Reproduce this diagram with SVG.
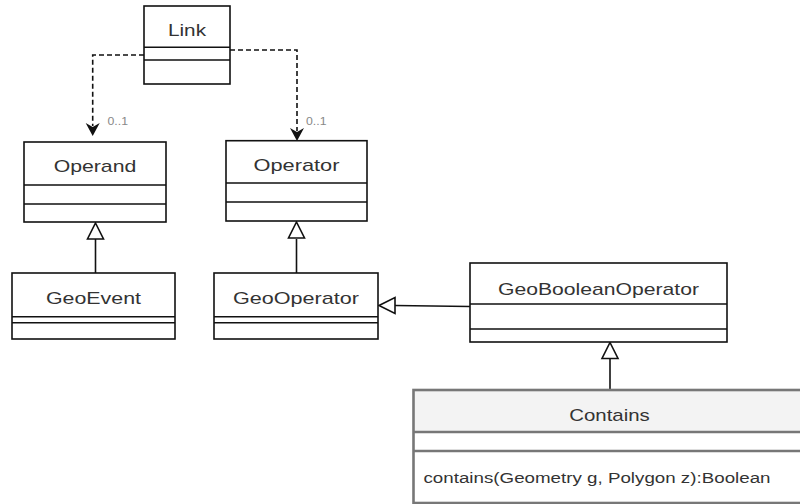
<svg xmlns="http://www.w3.org/2000/svg" width="800" height="504" viewBox="0 0 800 504">
<defs>
<style>
.box{fill:#fff;stroke:#111;stroke-width:1.6}
.ln{stroke:#111;stroke-width:1.6;fill:none}
.title{font-family:"Liberation Sans",Arial,sans-serif;font-size:17px;fill:#333;text-anchor:middle}
.meth{font-family:"Liberation Sans",Arial,sans-serif;font-size:15.5px;fill:#333}
.mult{font-family:"Liberation Sans",Arial,sans-serif;font-size:11px;fill:#888}
.dash{stroke:#111;stroke-width:1.6;fill:none;stroke-dasharray:5 3}
.gbox{stroke:#777;stroke-width:2.6}
.tri{fill:#fff;stroke:#111;stroke-width:1.6}
.head{fill:#111;stroke:none}
</style>
</defs>
<rect width="800" height="504" fill="#fff"/>
<g id="connectors">
<path class="dash" d="M144,55 H92.7 V126"/>
<path class="head" d="M92.7,136 L85.7,123 L92.7,127 L99.7,123 Z"/>
<text class="mult" x="107.5" y="124.5" textLength="20.5" lengthAdjust="spacingAndGlyphs">0..1</text>
<path class="dash" d="M230,50 H297 V131"/>
<path class="head" d="M297,141 L290,128 L297,132 L304,128 Z"/>
<text class="mult" x="306" y="124.5" textLength="20.5" lengthAdjust="spacingAndGlyphs">0..1</text>
<path class="ln" d="M95.5,273 V239"/>
<path class="tri" d="M95.5,223 L103.5,239 L87.5,239 Z"/>
<path class="ln" d="M296.5,273 V239"/>
<path class="tri" d="M296.5,222 L304.5,238 L288.5,238 Z"/>
<path class="ln" d="M470,306.5 L395,305.5"/>
<path class="tri" d="M379,305.5 L395,297.5 L395,313.5 Z"/>
<path class="ln" d="M610,390 V358.5"/>
<path class="tri" d="M610,342.5 L618,358.5 L602,358.5 Z"/>
</g>
<g id="Link">
<rect class="box" x="144" y="6" width="86" height="78"/>
<path class="ln" d="M144,47.3 H230 M144,60 H230"/>
<text class="title" x="187" y="35.5" textLength="38" lengthAdjust="spacingAndGlyphs">Link</text>
</g>
<g id="Operand">
<rect class="box" x="24" y="142" width="142" height="80"/>
<path class="ln" d="M24,185 H166 M24,204 H166"/>
<text class="title" x="95" y="172" textLength="82.7" lengthAdjust="spacingAndGlyphs">Operand</text>
</g>
<g id="Operator">
<rect class="box" x="226" y="140.7" width="141" height="80.3"/>
<path class="ln" d="M226,183 H367 M226,202 H367"/>
<text class="title" x="296.5" y="170.5" textLength="86" lengthAdjust="spacingAndGlyphs">Operator</text>
</g>
<g id="GeoEvent">
<rect class="box" x="12" y="273" width="163" height="66"/>
<path class="ln" d="M12,316.7 H175 M12,322.7 H175"/>
<text class="title" x="93.5" y="303.5" textLength="95" lengthAdjust="spacingAndGlyphs">GeoEvent</text>
</g>
<g id="GeoOperator">
<rect class="box" x="214" y="273" width="164" height="66"/>
<path class="ln" d="M214,316.7 H378 M214,322.7 H378"/>
<text class="title" x="296" y="303.5" textLength="126" lengthAdjust="spacingAndGlyphs">GeoOperator</text>
</g>
<g id="GeoBooleanOperator">
<rect class="box" x="470" y="263" width="257" height="79"/>
<path class="ln" d="M470,304 H727 M470,329 H727"/>
<text class="title" x="598.5" y="295" textLength="201" lengthAdjust="spacingAndGlyphs">GeoBooleanOperator</text>
</g>
<g id="Contains">
<rect x="413.5" y="390" width="393" height="42" fill="#f3f3f3"/>
<rect x="413.5" y="432" width="393" height="71" fill="#fff"/>
<rect class="gbox" x="413.5" y="390" width="393" height="113" fill="none"/>
<path class="gbox" d="M413.5,432 H806.5 M413.5,451 H806.5"/>
<text class="title" x="609.5" y="420.5" textLength="80.7" lengthAdjust="spacingAndGlyphs">Contains</text>
<text class="meth" x="423.5" y="482.5" textLength="347" lengthAdjust="spacingAndGlyphs">contains(Geometry g, Polygon z):Boolean</text>
</g>
</svg>
